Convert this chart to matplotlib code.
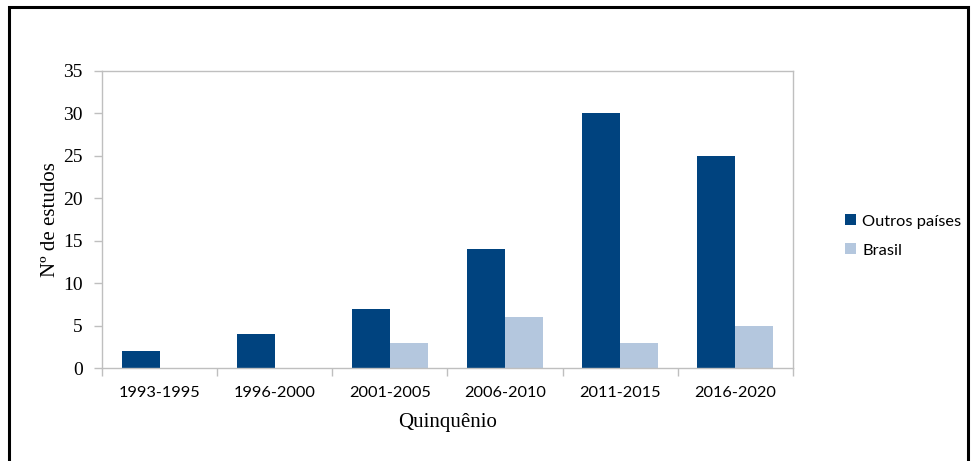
import numpy as np
import matplotlib.pyplot as plt
from matplotlib.patches import Rectangle

periodos = ['1993-1995', '1996-2000', '2001-2005', '2006-2010', '2011-2015', '2016-2020']
outros_paises = [2, 4, 7, 14, 30, 25]
brasil = [0, 0, 3, 6, 3, 5]

cor_outros = '#00437f'
cor_brasil = '#b4c7de'
cinza = '#bfbfbf'
serif = 'Liberation Serif'
sans = 'Lato'

fig = plt.figure(figsize=(9.71, 4.61), dpi=100)
ax = fig.add_axes([0.105, 0.2017, 0.7115, 0.6443])

x = np.arange(len(periodos))
w = 0.33
ax.bar(x - w / 2, outros_paises, w, color=cor_outros, label='Outros países')
ax.bar(x + w / 2, brasil, w, color=cor_brasil, label='Brasil')

ax.set_xlim(-0.5, len(periodos) - 0.5)
ax.set_ylim(0, 35)
ax.set_yticks(range(0, 36, 5))
ax.set_xticks(x)
ax.set_xticklabels(periodos, fontfamily=sans, fontsize=11.8)
ax.set_xticks(np.arange(-0.5, len(periodos)), minor=True)
ax.tick_params(axis='x', which='major', length=0, pad=13)
ax.tick_params(axis='x', which='minor', length=6, color=cinza, width=1)
ax.tick_params(axis='y', length=6, color=cinza, width=1, pad=8, labelsize=14)
for lab in ax.get_yticklabels():
    lab.set_fontfamily(serif)

for s in ax.spines.values():
    s.set_color(cinza)
    s.set_linewidth(1)

ax.set_xlabel('Quinquênio', fontfamily=serif, fontsize=15, labelpad=9)
ax.set_ylabel('Nº de estudos', fontfamily=serif, fontsize=15, labelpad=2)

fig.legend(loc='center left', bbox_to_anchor=(0.855, 0.488), frameon=False,
           prop={'family': sans, 'size': 11.8}, handlelength=0.65,
           handleheight=0.65, handletextpad=0.4, labelspacing=0.9)

# moldura preta em volta da figura
fig.patches.append(Rectangle((9 / 971, -0.05), 959 / 971, 1.05 - 7 / 461,
                             transform=fig.transFigure, fill=False,
                             edgecolor='black', linewidth=2.2, clip_on=False))

fig.savefig('out.png', dpi=100)
